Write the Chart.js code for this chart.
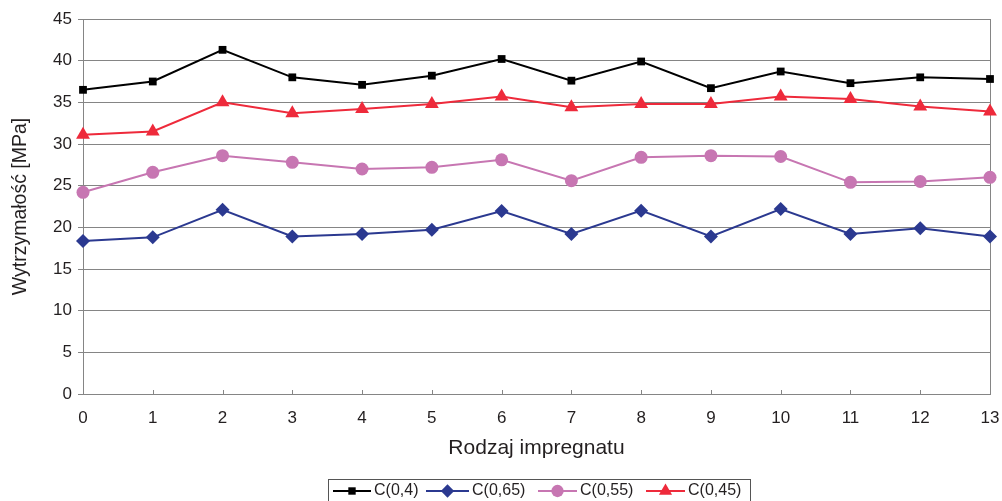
<!DOCTYPE html>
<html>
<head>
<meta charset="utf-8">
<script src="https://cdn.jsdelivr.net/npm/chart.js@4/dist/chart.umd.min.js"></script>
<style>
  html, body { margin: 0; padding: 0; background: #fff; }
  #wrap { width: 1002px; height: 501px; position: relative; }
</style>
</head>
<body>
<div id="wrap"><canvas id="c" width="1002" height="501"></canvas></div>
<script>
const categories = ['0','1','2','3','4','5','6','7','8','9','10','11','12','13'];
const seriesNames = ['C(0,4)', 'C(0,65)', 'C(0,55)', 'C(0,45)'];
const c04  = [36.5, 37.5, 41.3, 38.0, 37.1, 38.2, 40.2, 37.6, 39.9, 36.7, 38.7, 37.3, 38.0, 37.8];
const c065 = [18.35, 18.8, 22.1, 18.9, 19.2, 19.7, 21.95, 19.2, 22.0, 18.9, 22.2, 19.2, 19.9, 18.9];
const c055 = [24.2, 26.6, 28.6, 27.8, 27.0, 27.2, 28.1, 25.6, 28.4, 28.6, 28.5, 25.4, 25.5, 26.0];
const c045 = [31.1, 31.5, 35.0, 33.7, 34.2, 34.8, 35.7, 34.4, 34.8, 34.8, 35.7, 35.4, 34.5, 33.9];
const yTicks = [0, 5, 10, 15, 20, 25, 30, 35, 40, 45];

const FONT = 'Liberation Sans, Arial, sans-serif';
const TXT = '#231f20';
const GRID = '#858585';

const styles = [
  { color: '#000000', point: 'rect', radius: 5.5 },
  { color: '#2b3990', point: 'rectRot', radius: 7 },
  { color: '#c776b2', point: 'circle', radius: 6.5 },
  { color: '#ee2a3b', point: 'triangle', radius: 8 }
];
const seriesData = [c04, c065, c055, c045];

const datasets = seriesData.map((d, i) => ({
  label: seriesNames[i],
  data: d,
  borderColor: styles[i].color,
  backgroundColor: styles[i].color,
  borderWidth: 2,
  pointStyle: styles[i].point,
  pointRadius: styles[i].radius,
  pointHoverRadius: styles[i].radius,
  pointBorderWidth: 0,
  pointBackgroundColor: styles[i].color,
  tension: 0,
  clip: false
}));

const framePlugin = {
  id: 'frame',
  beforeDatasetsDraw(chart) {
    const { ctx, chartArea: a } = chart;
    ctx.save();
    ctx.strokeStyle = GRID;
    ctx.lineWidth = 1;
    ctx.beginPath();
    ctx.moveTo(Math.round(a.right) + 0.5, a.top);
    ctx.lineTo(Math.round(a.right) + 0.5, a.bottom);
    ctx.stroke();
    const xs = chart.scales.x;
    for (let i = 0; i < categories.length; i++) {
      const x = Math.round(xs.getPixelForTick(i)) + 0.5;
      ctx.beginPath();
      ctx.moveTo(x, a.bottom);
      ctx.lineTo(x, a.bottom - 4);
      ctx.stroke();
    }
    ctx.restore();
  },
  afterDraw(chart) {
    const ctx = chart.ctx;
    const boxL = 328.5, boxT = 479.5, boxR = 750.5, boxB = 506;
    ctx.save();
    ctx.strokeStyle = '#555';
    ctx.lineWidth = 1;
    ctx.strokeRect(boxL, boxT, boxR - boxL, boxB - boxT);
    const items = [
      { x0: 333, x1: 371, tx: 374 },
      { x0: 426, x1: 469, tx: 472 },
      { x0: 538, x1: 577, tx: 580 },
      { x0: 646, x1: 685, tx: 688 }
    ];
    const y = 491;
    ctx.font = '16px ' + FONT;
    ctx.textBaseline = 'middle';
    ctx.textAlign = 'left';
    items.forEach((it, i) => {
      const st = styles[i];
      ctx.strokeStyle = st.color;
      ctx.lineWidth = 2;
      ctx.beginPath();
      ctx.moveTo(it.x0, y);
      ctx.lineTo(it.x1, y);
      ctx.stroke();
      ctx.fillStyle = st.color;
      Chart.helpers.drawPoint(ctx, { pointStyle: st.point, radius: st.radius * 0.95, borderWidth: 0 }, (it.x0 + it.x1) / 2, y);
      ctx.fillStyle = TXT;
      ctx.fillText(seriesNames[i], it.tx, y);
    });
    ctx.restore();
  }
};

new Chart(document.getElementById('c'), {
  type: 'line',
  data: { labels: categories, datasets },
  options: {
    responsive: false,
    animation: false,
    devicePixelRatio: 1,
    layout: { autoPadding: false, padding: { top: 19, right: 12, bottom: 37, left: 0 } },
    plugins: { legend: { display: false }, tooltip: { enabled: false } },
    scales: {
      x: {
        type: 'category',
        offset: false,
        grid: { display: true, drawOnChartArea: false, drawTicks: false, color: GRID },
        border: { display: true, color: GRID, width: 1 },
        ticks: { color: TXT, font: { family: FONT, size: 17 }, padding: 14, maxRotation: 0, autoSkip: false },
        title: { display: true, text: 'Rodzaj impregnatu', color: TXT, font: { family: FONT, size: 21 }, padding: { top: 4, bottom: 3 } },
        afterFit(s) { s.height = 70; s.paddingLeft = 0; s.paddingRight = 0; }
      },
      y: {
        min: 0, max: 45,
        afterBuildTicks(s) { s.ticks = yTicks.map(v => ({ value: v })); },
        grid: { color: GRID, lineWidth: 1, drawTicks: true, tickLength: 5, tickColor: GRID },
        border: { display: true, color: GRID, width: 1 },
        ticks: { color: TXT, font: { family: FONT, size: 17 }, padding: 6 },
        title: { display: true, text: 'Wytrzymałość [MPa]', color: TXT, font: { family: FONT, size: 19.5 }, padding: { top: 9, bottom: 0 } },
        afterFit(s) { s.width = 83; s.paddingTop = 0; s.paddingBottom = 0; }
      }
    }
  },
  plugins: [framePlugin]
});
</script>
</body>
</html>
